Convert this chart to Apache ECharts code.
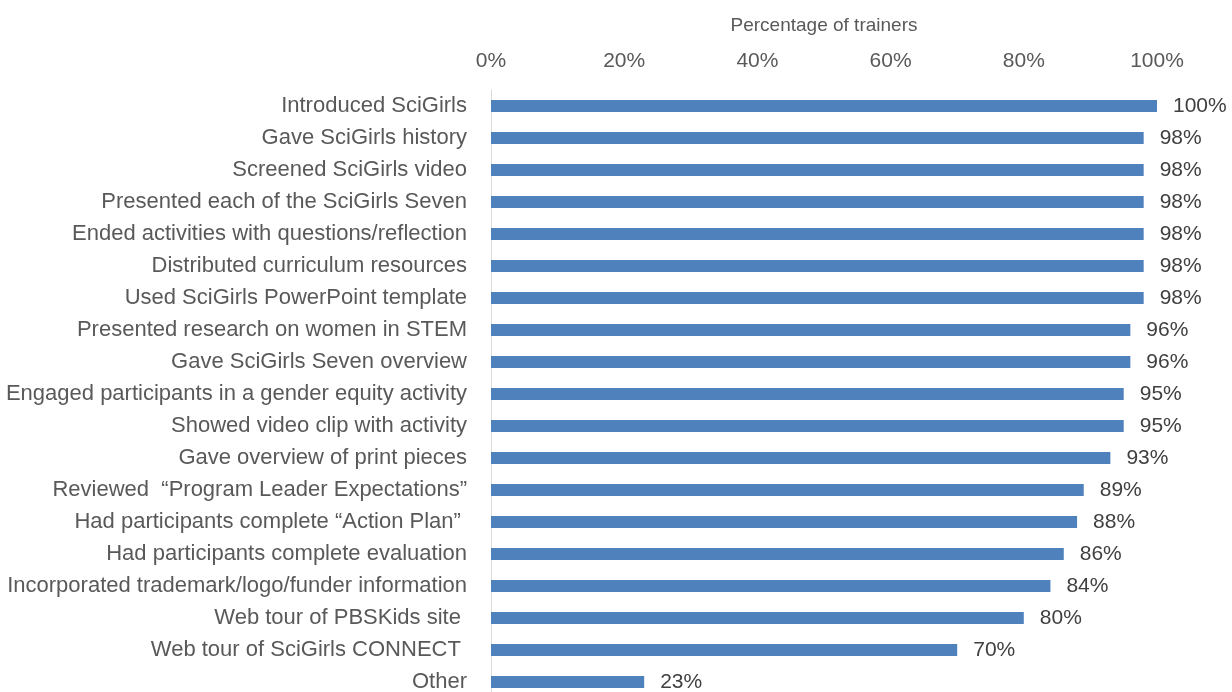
<!DOCTYPE html>
<html>
<head>
    <meta charset="UTF-8">
    <title>Percentage of trainers</title>
    <script src="https://cdn.jsdelivr.net/npm/echarts/dist/echarts.min.js"></script>
    <style>
        body { margin: 0; background: #fff; overflow: hidden; }
        /* a little taller than the window: the last band runs off the bottom edge, as in the original */
        #chart { width: 1232px; height: 700px; }
    </style>
</head>
<body>
    <div id="chart"></div>
    <script>
        const categories = [
            'Introduced SciGirls',
            'Gave SciGirls history',
            'Screened SciGirls video',
            'Presented each of the SciGirls Seven',
            'Ended activities with questions/reflection',
            'Distributed curriculum resources',
            'Used SciGirls PowerPoint template',
            'Presented research on women in STEM',
            'Gave SciGirls Seven overview',
            'Engaged participants in a gender equity activity',
            'Showed video clip with activity',
            'Gave overview of print pieces',
            'Reviewed  \u201cProgram Leader Expectations\u201d',
            'Had participants complete \u201cAction Plan\u201d ',
            'Had participants complete evaluation',
            'Incorporated trademark/logo/funder information',
            'Web tour of PBSKids site ',
            'Web tour of SciGirls CONNECT ',
            'Other'
        ];
        const percentages = [100, 98, 98, 98, 98, 98, 98, 96, 96, 95, 95, 93, 89, 88, 86, 84, 80, 70, 23];
        const xTicks = [0, 20, 40, 60, 80, 100];

        const font = "'Liberation Sans', Arial, sans-serif";

        const chart = echarts.init(document.getElementById('chart'));
        chart.setOption({
            animation: false,
            grid: { left: 491, right: 75, top: 90, bottom: 2 },
            xAxis: {
                type: 'value',
                position: 'top',
                min: xTicks[0],
                max: xTicks[xTicks.length - 1],
                interval: xTicks[1] - xTicks[0],
                name: 'Percentage of trainers',
                nameLocation: 'middle',
                nameGap: 55,
                nameTextStyle: { fontFamily: font, fontSize: 19, color: '#595959' },
                axisLine: { show: false },
                axisTick: { show: false },
                splitLine: { show: false },
                axisLabel: {
                    fontFamily: font, fontSize: 21, color: '#595959', margin: 18,
                    formatter: v => v + '%'
                }
            },
            yAxis: {
                type: 'category',
                inverse: true,
                data: categories,
                axisLine: { show: true, lineStyle: { color: '#d9d9d9', width: 1 } },
                axisTick: { show: false },
                axisLabel: { fontFamily: font, fontSize: 22, color: '#595959', margin: 24 }
            },
            series: [{
                type: 'bar',
                data: percentages,
                barWidth: 12,
                itemStyle: { color: '#4f81bd' },
                label: {
                    show: true,
                    position: 'right',
                    distance: 16,
                    fontFamily: font,
                    fontSize: 21,
                    color: '#404040',
                    formatter: p => p.value + '%'
                }
            }]
        });
    </script>
</body>
</html>
